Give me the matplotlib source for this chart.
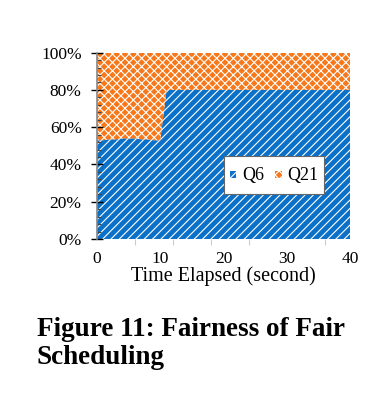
import matplotlib
matplotlib.use("Agg")
import matplotlib.pyplot as plt
import numpy as np
from matplotlib.ticker import MultipleLocator, FuncFormatter
from matplotlib.legend_handler import HandlerPatch
from matplotlib.patches import Rectangle

plt.rcParams['font.family'] = ['Liberation Serif', 'DejaVu Serif']
plt.rcParams['hatch.linewidth'] = 0.8

time_s = list(range(0, 41))
q6_share = [53, 53, 53.5, 53.5, 54, 54, 54, 53.5, 53.5, 53, 53] + [80] * 30
q21_share = [100 - v for v in q6_share]
series_names = ["Q6", "Q21"]
blue = "#0B70C8"
orange = "#F7781A"
hatches = ["////", "xxxx"]


class SmallSquare(HandlerPatch):
    def create_artists(self, legend, orig_handle, xdescent, ydescent, width, height, fontsize, trans):
        s = width
        x0 = -xdescent
        y0 = -ydescent + (height - s) / 2.0
        p = Rectangle((x0, y0), s, s, facecolor=orig_handle.get_facecolor(),
                      edgecolor="white", hatch=orig_handle.get_hatch(), linewidth=0)
        p.set_transform(trans)
        return [p]


fig = plt.figure(figsize=(3.84, 3.96), dpi=100)
ax = fig.add_axes([0.2526, 0.3965, 0.6589, 0.4705])

t = np.array(time_s)
q6 = np.array(q6_share)
q21 = np.array(q21_share)
ax.fill_between(t, 0, q6, facecolor=blue, edgecolor="white", hatch=hatches[0], linewidth=0)
ax.fill_between(t, q6, q6 + q21, facecolor=orange, edgecolor="white", hatch=hatches[1], linewidth=0)

ax.set_xlim(0, 40)
ax.set_ylim(0, 100)
ax.xaxis.set_major_locator(MultipleLocator(10))
ax.xaxis.set_minor_locator(MultipleLocator(6))
ax.yaxis.set_major_locator(MultipleLocator(20))
ax.yaxis.set_minor_locator(MultipleLocator(4))
ax.yaxis.set_major_formatter(FuncFormatter(lambda v, p: f"{int(v)}%"))

for s in ["top", "right", "bottom"]:
    ax.spines[s].set_visible(False)
ax.spines["left"].set_color("#888888")
ax.spines["left"].set_linewidth(1.2)

ax.tick_params(axis="y", which="major", direction="inout", length=8, width=1, color="black", labelsize=12.5, pad=7)
ax.tick_params(axis="y", which="minor", direction="in", length=3, width=0.8, color="#444444")
ax.tick_params(axis="x", which="major", length=0, labelsize=12.5, pad=9)
ax.tick_params(axis="x", which="minor", direction="out", length=4, width=0.8, color="#cccccc")

ax.set_xlabel("Time Elapsed (second)", fontsize=14.5, labelpad=-1)

proxies = [Rectangle((0, 0), 1, 1, facecolor=blue, edgecolor="white", hatch=hatches[0]),
           Rectangle((0, 0), 1, 1, facecolor=orange, edgecolor="white", hatch=hatches[1])]
leg = ax.legend(proxies, series_names, loc="center", bbox_to_anchor=(0.699, 0.345), ncol=2, fontsize=13,
                frameon=True, fancybox=False, handlelength=0.38, handleheight=1.9,
                handletextpad=0.3, columnspacing=0.6, borderpad=0.32,
                handler_map={Rectangle: SmallSquare()})
leg.get_frame().set_edgecolor("#666666")
leg.get_frame().set_linewidth(0.8)
leg.get_frame().set_alpha(1)

fig.text(0.096, 0.132, "Figure 11: Fairness of Fair\nScheduling", fontsize=19.5, fontweight="bold",
         ha="left", va="center", linespacing=1.18)

fig.savefig("out.png", dpi=100)
